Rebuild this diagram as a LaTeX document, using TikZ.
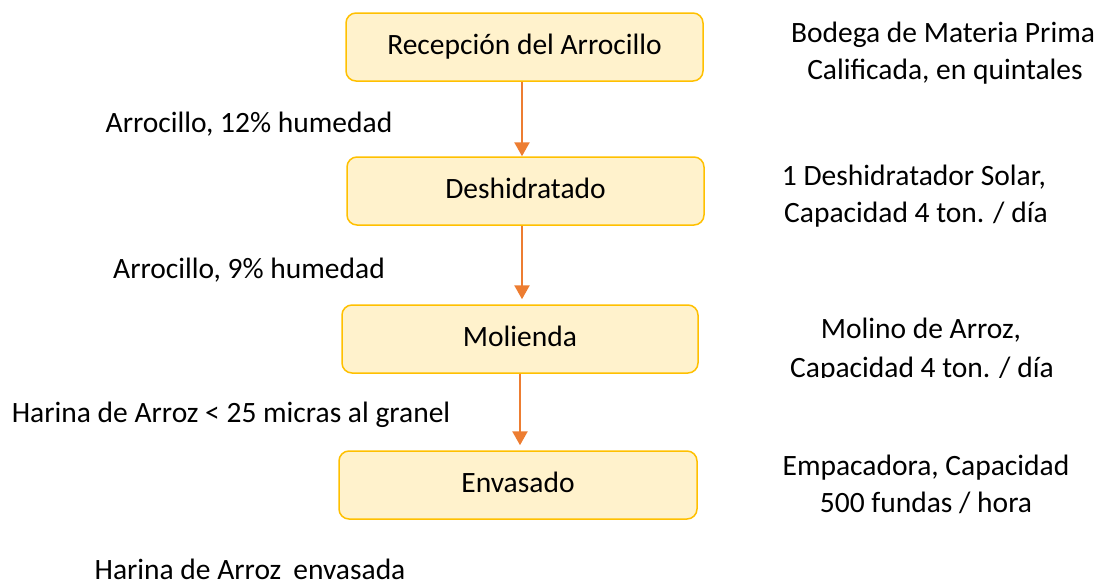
\documentclass[tikz,border=0pt]{standalone}
\usepackage{fontspec}
\setmainfont{Carlito}
\usetikzlibrary{arrows.meta}
\definecolor{boxfill}{HTML}{FFF2CC}
\definecolor{boxline}{HTML}{FFC000}
\definecolor{arrowc}{HTML}{ED7D31}
\begin{document}
\begin{tikzpicture}[x=1pt,y=-1pt,
 stepbox/.style={draw=boxline, fill=boxfill, line width=1.5pt, rounded corners=10pt,
   minimum width=357pt, minimum height=68pt, inner sep=0pt,
   text height=20pt, text depth=6pt, font=\fontsize{29.5}{36}\selectfont},
 lbl/.style={anchor=base, inner sep=0pt, font=\fontsize{29.5}{36}\selectfont},
 flow/.style={draw=arrowc, line width=2.5pt, -{Triangle[width=15pt,length=14pt]}}]
\useasboundingbox (0,0) rectangle (1104,584);
% boxes
\node[stepbox] (b1) at (524.5,47) {Recepción del Arrocillo};
\node[stepbox] (b2) at (525.5,191) {Deshidratado};
\node[stepbox, minimum width=356pt] (b3) at (520,339) {Molienda};
\node[stepbox, minimum width=358pt] (b4) at (518,485) {Envasado};
% arrows
\draw[flow] ([xshift=-2.5pt]b1.south) -- ([xshift=-2.5pt]b1.south |- b2.north);
\draw[flow] ([xshift=-3.5pt]b2.south) -- ([xshift=-3.5pt,yshift=5pt]b2.south |- b3.north);
\draw[flow] (b3.south) -- ([yshift=5pt]b3.south |- b4.north);
% left labels
\node[lbl] (l1) at (249,132) {Arrocillo, 12\% humedad};
\node[lbl] (l2) at (249,278) {Arrocillo, 9\% humedad};
\node[lbl] (l3) at (231,422) {Harina de Arroz < 25 micras al granel};
\node[lbl] (l4) at (250,579.5) {Harina de Arroz\hspace{12pt}envasada};
% right labels
\node[lbl] (r1a) at (943,42) {Bodega de Materia Prima};
\node[lbl] (r1b) at (945,79) {Calificada, en quintales};
\node[lbl] (r2a) at (914,185) {1 Deshidratador Solar,};
\node[lbl] (r2b) at (916,222) {Capacidad 4 ton. / día};
\node[lbl] (r3a) at (921,338) {Molino de Arroz,};
\begin{scope}
\clip (700,300) rectangle (1104,377.3);
\node[lbl] (r3b) at (922,377) {Capacidad 4 ton. / día};
\end{scope}
\node[lbl] (r4a) at (926,475) {Empacadora, Capacidad};
\node[lbl] (r4b) at (926,512) {500 fundas / hora};
\end{tikzpicture}
\end{document}
